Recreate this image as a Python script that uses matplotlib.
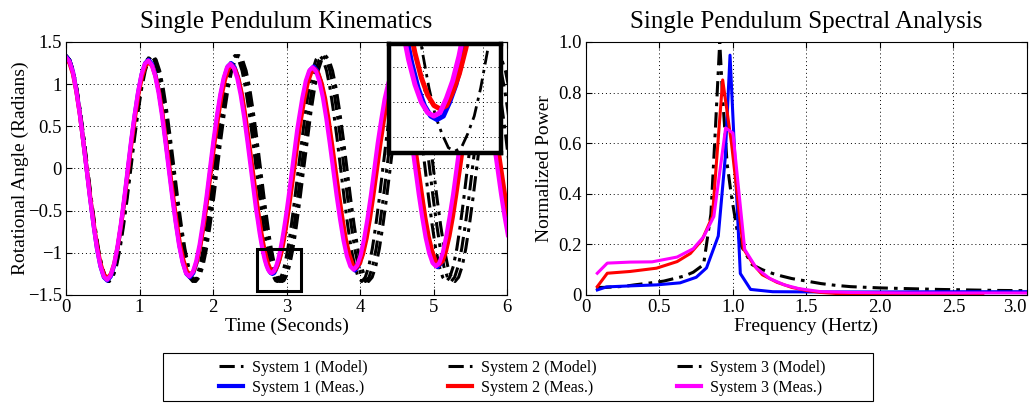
import numpy as np
import matplotlib
matplotlib.use('Agg')
import matplotlib.pyplot as plt
from matplotlib.patches import Rectangle

plt.rcParams['font.family'] = ['Liberation Serif', 'DejaVu Serif']
plt.rcParams['axes.unicode_minus'] = True

# ---- time series: sample index grid (finer inside the zoomed window) ----
k_grid = np.concatenate([np.arange(0, 54.5, 1), np.arange(54.5, 68.5, 0.5),
                         np.arange(69, 129.5, 1)])

# sample spacing (s) of each series
dt_model = [0.0479, 0.0485, 0.0490]
dt_meas = [0.0468, 0.0470, 0.0466]

# model angle (rad), same for the three systems
model_angle = [
    1.34, 1.29, 1.16, 0.95, 0.67, 0.35, 0, -0.35, -0.67, -0.95, -1.16, -1.29,
    -1.34, -1.29, -1.16, -0.95, -0.67, -0.35, 0, 0.35, 0.67, 0.95, 1.16, 1.29,
    1.34, 1.29, 1.16, 0.95, 0.67, 0.35, 0, -0.35, -0.67, -0.95, -1.16, -1.29,
    -1.34, -1.29, -1.16, -0.95, -0.67, -0.35, 0, 0.35, 0.67, 0.95, 1.16, 1.29,
    1.34, 1.29, 1.16, 0.95, 0.67, 0.35, 0,
    -0.17, -0.35, -0.51, -0.67, -0.82, -0.95, -1.06, -1.16, -1.24, -1.29, -1.33, -1.34, -1.33, -1.29,
    -1.24, -1.16, -1.06, -0.95, -0.82, -0.67, -0.51, -0.35, -0.17, 0, 0.17, 0.35, 0.51, 0.67,
    0.95, 1.16, 1.29,
    1.34, 1.29, 1.16, 0.95, 0.67, 0.35, 0, -0.35, -0.67, -0.95, -1.16, -1.29,
    -1.34, -1.29, -1.16, -0.95, -0.67, -0.35, 0, 0.35, 0.67, 0.95, 1.16, 1.29,
    1.34, 1.29, 1.16, 0.95, 0.67, 0.35, 0, -0.35, -0.67, -0.95, -1.16, -1.29,
    -1.34, -1.29, -1.16, -0.95, -0.67, -0.35, 0, 0.35, 0.67, 0.95, 1.16, 1.29,
    1.34, 1.29, 1.16, 0.95, 0.67, 0.35, 0, -0.35, -0.67, -0.95]

meas1_angle = [
    1.33, 1.28, 1.15, 0.93, 0.66, 0.33, -0.01, -0.35, -0.67, -0.95,
    -1.16, -1.29, -1.33, -1.28, -1.15, -0.94, -0.67, -0.35, -0.01, 0.33,
    0.64, 0.91, 1.12, 1.25, 1.29, 1.24, 1.11, 0.91, 0.64, 0.32,
    -0.01, -0.34, -0.65, -0.92, -1.12, -1.25, -1.29, -1.24, -1.11, -0.91,
    -0.65, -0.34, -0.01, 0.32, 0.62, 0.88, 1.08, 1.21, 1.25, 1.20,
    1.08, 0.88, 0.62, 0.31, -0.01,
    -0.17, -0.33, -0.49, -0.63, -0.77, -0.89, -1.00, -1.09, -1.16, -1.21, -1.24, -1.25, -1.24, -1.20,
    -1.15, -1.08, -0.99, -0.88, -0.76, -0.63, -0.48, -0.33, -0.17, -0.01, 0.15, 0.31, 0.46, 0.60,
    0.85, 1.05, 1.17, 1.21, 1.16, 1.04, 0.85, 0.60, 0.30, -0.01, -0.32,
    -0.61, -0.86, -1.05, -1.17, -1.21, -1.16, -1.04, -0.85, -0.61, -0.32,
    -0.01, 0.30, 0.58, 0.83, 1.01, 1.13, 1.17, 1.13, 1.01, 0.82,
    0.58, 0.29, -0.01, -0.31, -0.59, -0.83, -1.01, -1.13, -1.17, -1.13,
    -1.01, -0.82, -0.58, -0.31, -0.01, 0.29, 0.56, 0.80, 0.98, 1.09,
    1.13, 1.09, 0.97, 0.79, 0.55, 0.28, -0.01, -0.30, -0.57, -0.80]

meas2_angle = [
    1.30, 1.25, 1.12, 0.91, 0.64, 0.32, -0.01, -0.34, -0.65, -0.93,
    -1.13, -1.26, -1.30, -1.25, -1.12, -0.92, -0.65, -0.34, -0.01, 0.32,
    0.62, 0.89, 1.09, 1.22, 1.26, 1.21, 1.08, 0.89, 0.62, 0.31,
    -0.01, -0.33, -0.63, -0.90, -1.09, -1.22, -1.26, -1.21, -1.08, -0.89,
    -0.63, -0.33, -0.01, 0.31, 0.60, 0.86, 1.05, 1.18, 1.22, 1.17,
    1.05, 0.86, 0.60, 0.30, -0.01,
    -0.17, -0.32, -0.48, -0.61, -0.75, -0.87, -0.97, -1.06, -1.13, -1.18, -1.21, -1.22, -1.21, -1.17,
    -1.12, -1.05, -0.97, -0.86, -0.74, -0.61, -0.47, -0.32, -0.17, -0.01, 0.15, 0.30, 0.45, 0.58,
    0.83, 1.02, 1.14, 1.18, 1.13, 1.01, 0.83, 0.58, 0.29, -0.01, -0.31,
    -0.59, -0.84, -1.02, -1.14, -1.18, -1.13, -1.01, -0.83, -0.59, -0.31,
    -0.01, 0.29, 0.57, 0.81, 0.98, 1.10, 1.14, 1.10, 0.98, 0.80,
    0.57, 0.28, -0.01, -0.30, -0.58, -0.81, -0.98, -1.10, -1.14, -1.10,
    -0.98, -0.80, -0.57, -0.30, -0.01, 0.28, 0.55, 0.78, 0.96, 1.06,
    1.10, 1.06, 0.95, 0.77, 0.54, 0.27, -0.01, -0.29, -0.56, -0.78]

meas3_angle = [
    1.32, 1.27, 1.14, 0.92, 0.65, 0.33, -0.01, -0.35, -0.66, -0.94,
    -1.15, -1.28, -1.32, -1.27, -1.14, -0.93, -0.66, -0.35, -0.01, 0.33,
    0.63, 0.90, 1.11, 1.24, 1.28, 1.23, 1.10, 0.90, 0.63, 0.32,
    -0.01, -0.34, -0.64, -0.91, -1.11, -1.24, -1.28, -1.23, -1.10, -0.90,
    -0.64, -0.34, -0.01, 0.32, 0.61, 0.87, 1.07, 1.20, 1.24, 1.19,
    1.07, 0.87, 0.61, 0.31, -0.01,
    -0.17, -0.33, -0.49, -0.62, -0.76, -0.88, -0.99, -1.08, -1.15, -1.20, -1.23, -1.24, -1.23, -1.19,
    -1.14, -1.07, -0.98, -0.87, -0.75, -0.62, -0.48, -0.33, -0.17, -0.01, 0.15, 0.31, 0.46, 0.59,
    0.84, 1.04, 1.16, 1.20, 1.15, 1.03, 0.84, 0.59, 0.30, -0.01, -0.32,
    -0.60, -0.85, -1.04, -1.16, -1.20, -1.15, -1.03, -0.84, -0.60, -0.32,
    -0.01, 0.30, 0.57, 0.82, 1.00, 1.12, 1.16, 1.12, 1.00, 0.81,
    0.57, 0.29, -0.01, -0.31, -0.58, -0.82, -1.00, -1.12, -1.16, -1.12,
    -1.00, -0.81, -0.57, -0.31, -0.01, 0.29, 0.55, 0.79, 0.97, 1.08,
    1.12, 1.08, 0.96, 0.78, 0.54, 0.28, -0.01, -0.30, -0.56, -0.79]

# ---- spectrum ----
f_model = [0.07, 0.13, 0.2, 0.27, 0.33, 0.4, 0.47, 0.53, 0.6, 0.67, 0.73, 0.8, 0.85, 0.88, 0.91,
           0.93, 0.96, 0.99, 1.03, 1.06, 1.13, 1.2, 1.27, 1.33, 1.4, 1.5, 1.6, 1.7, 1.8, 2.0,
           2.2, 2.4, 2.6, 2.8, 3.0]
p_model = [0.03, 0.03, 0.032, 0.035, 0.04, 0.045, 0.05, 0.055, 0.065, 0.075, 0.09, 0.12, 0.32,
           0.65, 1.0, 0.78, 0.52, 0.39, 0.25, 0.19, 0.12, 0.1, 0.085, 0.075, 0.065, 0.055, 0.045,
           0.038, 0.033, 0.028, 0.025, 0.022, 0.02, 0.018, 0.017]

f_meas1 = [0.077, 0.14, 0.3, 0.48, 0.64, 0.75, 0.82, 0.9, 0.947, 0.98, 1.05, 1.12, 1.27, 1.6,
           2.0, 2.5, 3.0]
p_meas1 = [0.02, 0.032, 0.036, 0.04, 0.048, 0.07, 0.107, 0.233, 0.54, 0.948, 0.085, 0.022,
           0.013, 0.012, 0.012, 0.013, 0.013]

f_meas2 = [0.077, 0.145, 0.3, 0.48, 0.62, 0.71, 0.79, 0.86, 0.93, 0.99, 1.07, 1.14, 1.2, 1.3,
           1.4, 1.5, 1.6, 1.7, 2.0, 2.7]
p_meas2 = [0.033, 0.086, 0.093, 0.106, 0.132, 0.164, 0.218, 0.31, 0.85, 0.6, 0.184, 0.12, 0.08,
           0.05, 0.03, 0.018, 0.01, 0.006, 0.004, 0.003]

f_meas3 = [0.077, 0.145, 0.3, 0.45, 0.62, 0.73, 0.8, 0.87, 0.95, 1.0, 1.08, 1.16, 1.25, 1.35,
           1.45, 1.6, 1.8, 2.2, 3.0]
p_meas3 = [0.086, 0.126, 0.13, 0.131, 0.15, 0.183, 0.23, 0.31, 0.66, 0.64, 0.18, 0.106, 0.065,
           0.04, 0.025, 0.013, 0.01, 0.008, 0.008]

labels = ['System 1 (Model)', 'System 1 (Meas.)', 'System 2 (Model)',
          'System 2 (Meas.)', 'System 3 (Model)', 'System 3 (Meas.)']
meas_colors = ['#0000ff', '#ff0000', '#ff00ff']

dashdot = (0, (5, 2, 1.2, 2))

fig = plt.figure(figsize=(10.32, 4.03), dpi=100)
ax1 = fig.add_axes([0.064, 0.268, 0.4273, 0.6278])
ax2 = fig.add_axes([0.5678, 0.268, 0.4273, 0.6278])


def style(ax):
    ax.grid(True, linestyle=(0, (1, 3)), color='k', linewidth=0.7)
    ax.tick_params(direction='in', top=True, right=True, length=4, labelsize=13.5, pad=3)
    for s in ax.spines.values():
        s.set_linewidth(0.8)


def draw_series(ax, models=(0, 1, 2), lwm=2.2, lwd=3.0):
    hs = []
    for i in models:
        h, = ax.plot(k_grid * dt_model[i], model_angle, color='k', linestyle=dashdot,
                     linewidth=lwm)
        hs.append(h)
    for dt, y, c in zip(dt_meas, [meas1_angle, meas2_angle, meas3_angle], meas_colors):
        h, = ax.plot(k_grid * dt, y, color=c, linewidth=lwd)
        hs.append(h)
    return hs

hs = draw_series(ax1)
handles = [hs[0], hs[3], hs[1], hs[4], hs[2], hs[5]]
ax1.set_xlim(0, 6)
ax1.set_ylim(-1.5, 1.5)
ax1.set_xticks(range(7))
ax1.set_yticks([-1.5, -1, -0.5, 0, 0.5, 1, 1.5])
ax1.set_yticklabels(['\u22121.5', '\u22121', '\u22120.5', '0', '0.5', '1', '1.5'])
style(ax1)
ax1.set_title('Single Pendulum Kinematics', fontsize=18, pad=10)
ax1.set_xlabel('Time (Seconds)', fontsize=14, labelpad=1)
ax1.set_ylabel('Rotational Angle (Radians)', fontsize=14, labelpad=-1)
ax1.add_patch(Rectangle((2.6, -1.45), 0.6, 0.5, fill=False, edgecolor='k', linewidth=2.2, zorder=5))

# inset (zoom of the boxed trough)
axi = fig.add_axes([389 / 1032, 1 - 153 / 403, 112 / 1032, 109 / 403])
draw_series(axi, models=(0,), lwm=2.0, lwd=3.6)
axi.set_xlim(2.63, 3.045)
axi.set_ylim(-1.345, -1.035)
axi.set_xticks([2.755, 2.977])
axi.set_yticks([-1.3, -1.2, -1.1])
axi.grid(True, linestyle=(0, (1, 3)), color='k', linewidth=0.7)
axi.tick_params(length=0, labelbottom=False, labelleft=False)
for s in axi.spines.values():
    s.set_linewidth(3.2)

# spectrum
ax2.plot(f_model, p_model, color='k', linestyle=dashdot, linewidth=2.2)
ax2.plot(f_meas1, p_meas1, color=meas_colors[0], linewidth=2.2)
ax2.plot(f_meas2, p_meas2, color=meas_colors[1], linewidth=2.2)
ax2.plot(f_meas3, p_meas3, color=meas_colors[2], linewidth=2.2)
ax2.set_xlim(0, 3)
ax2.set_ylim(0, 1)
ax2.set_xticks([0, 0.5, 1, 1.5, 2, 2.5, 3])
ax2.set_xticklabels(['0', '0.5', '1.0', '1.5', '2.0', '2.5', '3.0'])
ax2.set_yticks([0, 0.2, 0.4, 0.6, 0.8, 1.0])
ax2.set_yticklabels(['0', '0.2', '0.4', '0.6', '0.8', '1.0'])
style(ax2)
ax2.get_xticklabels()[-1].set_horizontalalignment('right')
ax2.set_title('Single Pendulum Spectral Analysis', fontsize=18, pad=10)
ax2.set_xlabel('Frequency (Hertz)', fontsize=14, labelpad=1)
ax2.set_ylabel('Normalized Power', fontsize=14, labelpad=4)

leg = fig.legend(handles, labels, ncol=3, loc='center', bbox_to_anchor=(0.506, 0.062),
                 fontsize=11.5, frameon=False, handlelength=1.5, borderpad=0,
                 handletextpad=0.6, labelspacing=0.25, columnspacing=5.0)
fig.patches.append(Rectangle((163 / 1032, 2 / 403), 710 / 1032, 48 / 403, fill=False,
                             edgecolor='k', linewidth=0.8, transform=fig.transFigure,
                             figure=fig))

fig.savefig('out.png', dpi=100)
